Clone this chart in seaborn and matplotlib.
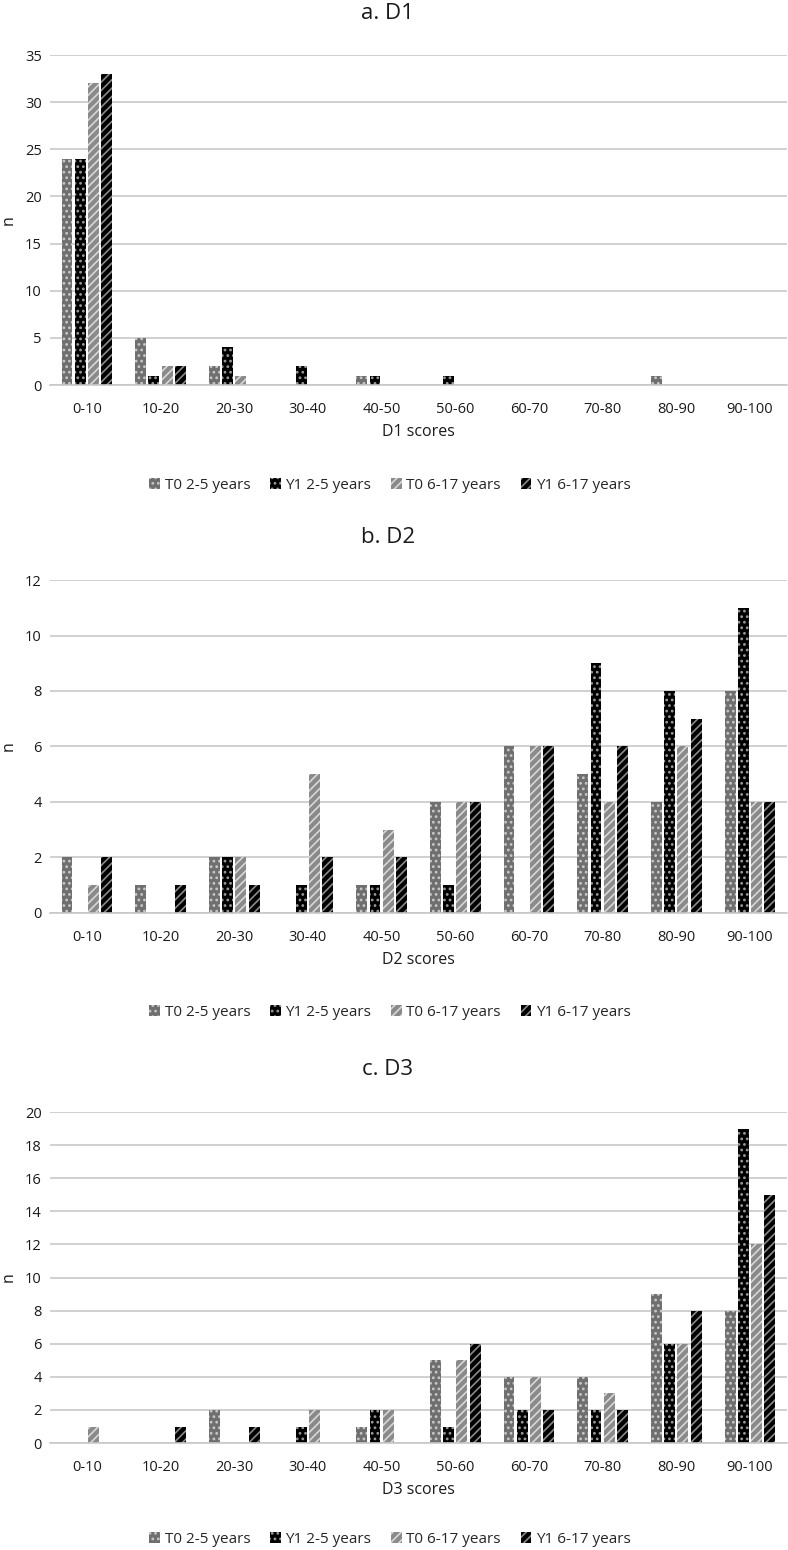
import matplotlib
matplotlib.use("Agg")
import matplotlib.pyplot as plt
from matplotlib.patches import Patch
import seaborn as sns
import pandas as pd

categories = ["0-10", "10-20", "20-30", "30-40", "40-50", "50-60",
              "60-70", "70-80", "80-90", "90-100"]
series_names = ["T0 2-5 years", "Y1 2-5 years", "T0 6-17 years", "Y1 6-17 years"]

d1_t0_25 = [24, 5, 2, 0, 1, 0, 0, 0, 1, 0]
d1_y1_25 = [24, 1, 4, 2, 1, 1, 0, 0, 0, 0]
d1_t0_617 = [32, 2, 1, 0, 0, 0, 0, 0, 0, 0]
d1_y1_617 = [33, 2, 0, 0, 0, 0, 0, 0, 0, 0]

d2_t0_25 = [2, 1, 2, 0, 1, 4, 6, 5, 4, 8]
d2_y1_25 = [0, 0, 2, 1, 1, 1, 0, 9, 8, 11]
d2_t0_617 = [1, 0, 2, 5, 3, 4, 6, 4, 6, 4]
d2_y1_617 = [2, 1, 1, 2, 2, 4, 6, 6, 7, 4]

d3_t0_25 = [0, 0, 2, 0, 1, 5, 4, 4, 9, 8]
d3_y1_25 = [0, 0, 0, 1, 2, 1, 2, 2, 6, 19]
d3_t0_617 = [1, 0, 0, 2, 2, 5, 4, 3, 6, 12]
d3_y1_617 = [0, 1, 1, 0, 0, 6, 2, 2, 8, 15]

panels = [
    ("a. D1", "D1 scores", [d1_t0_25, d1_y1_25, d1_t0_617, d1_y1_617], 35, 5),
    ("b. D2", "D2 scores", [d2_t0_25, d2_y1_25, d2_t0_617, d2_y1_617], 12, 2),
    ("c. D3", "D3 scores", [d3_t0_25, d3_y1_25, d3_t0_617, d3_y1_617], 20, 2),
]

sns.set_theme(style="white")
plt.rcParams['font.family'] = ['Open Sans', 'DejaVu Sans']
plt.rcParams['hatch.linewidth'] = 1.2

# (facecolor, hatch, hatchcolor)
styles = [
    ("#6f6f6f", "...", "#c8c8c8"),
    ("#000000", "...", "#9a9a9a"),
    ("#8a8a8a", "////", "#d8d8d8"),
    ("#000000", "////", "#8a8a8a"),
]

TXT = "#1a1a1a"
fig = plt.figure(figsize=(7.88, 15.5), dpi=100)

rects = [
    (0.0635, 0.7516, 0.935, 0.2129),
    (0.0635, 0.4110, 0.935, 0.2148),
    (0.0635, 0.0690, 0.935, 0.2135),
]
legend_y = [0.687, 0.347, 0.0068]
title_y = [0.998, 0.660, 0.317]

for (title, xlabel, series, ymax, ystep), rect, ly, ty in zip(panels, rects, legend_y, title_y):
    ax = fig.add_axes(rect)
    rows = []
    for name, vals in zip(series_names, series):
        for c, v in zip(categories, vals):
            rows.append({"cat": c, "series": name, "n": v})
    df = pd.DataFrame(rows)
    sns.barplot(data=df, x="cat", y="n", hue="series", order=categories,
                hue_order=series_names, width=0.72, gap=0.18, ax=ax,
                legend=False, errorbar=None)
    for cont, (fc, h, hc) in zip(ax.containers, styles):
        for p in cont:
            p.set_facecolor(fc)
            p.set_edgecolor(hc)
            p.set_hatch(h)
            p.set_linewidth(0)
    ax.set_ylim(0, ymax)
    ax.set_yticks(list(range(0, ymax + 1, ystep)))
    ax.set_xlim(-0.5, len(categories) - 0.5)
    ax.yaxis.grid(True, color="#c8c8c8", linewidth=1.2)
    ax.set_axisbelow(True)
    for s in ["top", "right", "left"]:
        ax.spines[s].set_visible(False)
    ax.spines["bottom"].set_color("#c8c8c8")
    ax.spines["bottom"].set_linewidth(1.2)
    ax.tick_params(axis="y", length=0, labelsize=10.5, colors=TXT, pad=6)
    ax.tick_params(axis="x", length=0, labelsize=10.5, colors=TXT, pad=12)
    ax.set_xlabel(xlabel, fontsize=11.5, color=TXT, labelpad=5)
    ax.set_ylabel("n", fontsize=11.5, color=TXT, labelpad=6)
    fig.text(0.492, ty, title, ha="center", va="top", fontsize=16, color=TXT)
    handles = [Patch(facecolor=fc, edgecolor=hc, hatch=h, linewidth=0)
               for fc, h, hc in styles]
    fig.legend(handles, series_names, loc="center", bbox_to_anchor=(0.495, ly),
               ncol=4, frameon=False, handlelength=0.7,
               handleheight=0.7, handletextpad=0.3, columnspacing=1.3,
               prop={"size": 11})

fig.savefig("out.png", dpi=100)
